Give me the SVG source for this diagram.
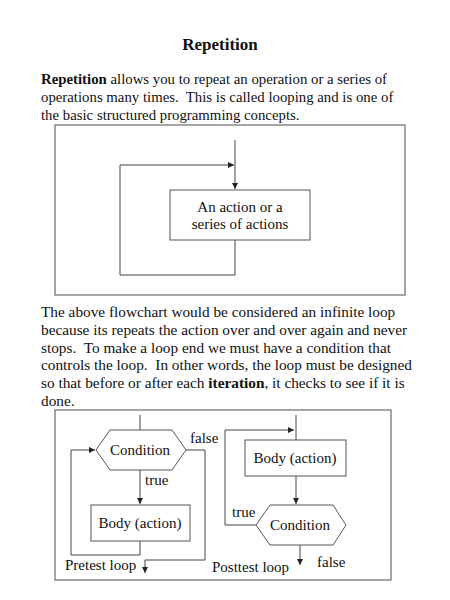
<svg xmlns="http://www.w3.org/2000/svg" width="450" height="600" viewBox="0 0 450 600">
<style>
text{font-family:"Liberation Serif","Times New Roman",serif;fill:#111;font-size:15px;white-space:pre}
.title{font-size:17px;font-weight:bold}
.p1{font-size:14.8px}
.p2{font-size:15.3px}
.c{text-anchor:middle}
.frame{fill:none;stroke:#6a6a6a;stroke-width:1.2}
.node{fill:#fff;stroke:#555;stroke-width:1}
.ln{fill:none;stroke:#444;stroke-width:1}
</style>
<defs>
<marker id="ah" markerUnits="userSpaceOnUse" markerWidth="8" markerHeight="8" refX="6" refY="3" orient="auto">
<path d="M0,0 L6,3 L0,6 Z" fill="#222"/>
</marker>
</defs>
<rect width="450" height="600" fill="#fff"/>
<text class="title c" x="220" y="50">Repetition</text>
<g id="para1" class="p1" xml:space="preserve">
<text class="p1" x="41" y="84"><tspan font-weight="bold">Repetition</tspan> allows you to repeat an operation or a series of</text>
<text class="p1" x="41" y="102">operations many times.  This is called looping and is one of</text>
<text class="p1" x="41" y="120">the basic structured programming concepts.</text>
</g>
<rect class="frame" x="55" y="125" width="350" height="170"/>
<g id="connectors1">
<path class="ln" d="M235,140 V189" marker-end="url(#ah)"/>
<path class="ln" d="M235,240 V275 H120 V165 H234" marker-end="url(#ah)"/>
</g>
<g id="action">
<rect class="node" x="170" y="190" width="140" height="50"/>
<text class="c" x="240" y="212">An action or a</text>
<text class="c" x="240" y="229">series of actions</text>
</g>
<g id="para2" xml:space="preserve">
<text class="p2" x="41" y="317">The above flowchart would be considered an infinite loop</text>
<text class="p2" x="41" y="335">because its repeats the action over and over again and never</text>
<text class="p2" x="41" y="352.5">stops.  To make a loop end we must have a condition that</text>
<text class="p2" x="41" y="370">controls the loop.  In other words, the loop must be designed</text>
<text class="p2" x="41" y="388">so that before or after each <tspan font-weight="bold">iteration</tspan>, it checks to see if it is</text>
<text class="p2" x="41" y="405.5">done.</text>
</g>
<rect class="frame" x="55" y="410" width="336" height="170"/>
<g id="connectors2">
<path class="ln" d="M140,415 V430"/>
<path class="ln" d="M140,470 V504" marker-end="url(#ah)"/>
<path class="ln" d="M140,541 V555 H71 V450 H95" marker-end="url(#ah)"/>
<path class="ln" d="M186,450 H205 V560 H145 V573" marker-end="url(#ah)"/>
<path class="ln" d="M296,415 V440"/>
<path class="ln" d="M296,476 V504" marker-end="url(#ah)"/>
<path class="ln" d="M256,525 H225 V430 H294" marker-end="url(#ah)"/>
<path class="ln" d="M300,545 V565" marker-end="url(#ah)"/>
</g>
<g id="cond1">
<polygon class="node" points="96,450 110,430 172,430 186,450 172,470 110,470"/>
<text class="c" x="140" y="455">Condition</text>
</g>
<g id="body1">
<rect class="node" x="91" y="505" width="99" height="36"/>
<text class="c" x="140" y="528">Body (action)</text>
</g>
<g id="body2">
<rect class="node" x="245" y="440" width="101" height="36"/>
<text class="c" x="295" y="463">Body (action)</text>
</g>
<g id="cond2">
<polygon class="node" points="256,525 270,505 333,505 346,525 333,545 270,545"/>
<text class="c" x="300" y="530">Condition</text>
</g>
<g id="labels">
<text x="190" y="443">false</text>
<text x="145" y="485">true</text>
<text x="65" y="570">Pretest loop</text>
<text x="232" y="517">true</text>
<text x="212" y="572">Posttest loop</text>
<text x="317" y="567">false</text>
</g>
</svg>
